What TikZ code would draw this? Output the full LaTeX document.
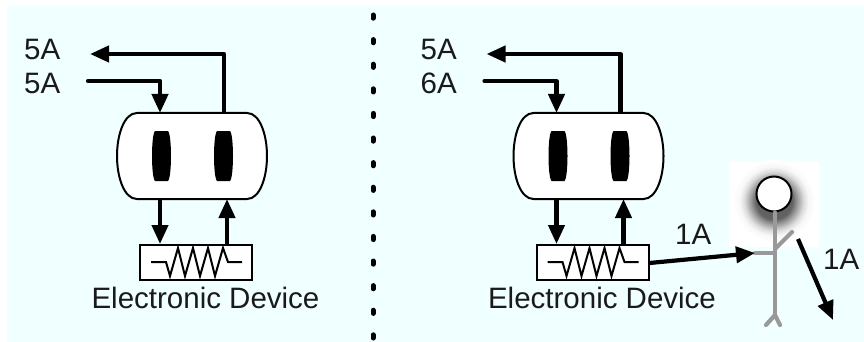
\documentclass[tikz,border=0pt]{standalone}
\usepackage{fontspec}
\setmainfont{Liberation Sans}
\usetikzlibrary{arrows.meta}
\definecolor{panel}{HTML}{F0FFFF}
\definecolor{ink}{HTML}{1A1A1A}
\definecolor{figgray}{HTML}{999999}
\pgfdeclareradialshading{glow}{\pgfpoint{0bp}{0bp}}{color(0bp)=(black!62); color(11bp)=(black!62); color(14bp)=(black!40); color(18bp)=(black!14); color(21bp)=(black!3); color(25bp)=(white); color(50bp)=(white)}
\tikzset{
  wire/.style={line width=4.2pt,line join=round,line cap=round,black},
  flow/.style={wire,-{Triangle[length=19pt,width=16pt]}},
  flat/.style={wire,line cap=butt,-{Triangle[length=19pt,width=16pt]}},
  lab/.style={font=\fontsize{29.5}{29.5}\selectfont,text=ink,inner sep=0pt,anchor=base west},
  anch/.style={inner sep=0pt,outer sep=0pt,minimum width=#1},
  outline/.style={line width=2pt,black},
  limb/.style={line width=4.2pt,figgray,line cap=round,line join=round},
  headball/.style={circle,draw,line width=2pt,fill=white,minimum size=35pt,inner sep=0pt},
}
\newcommand{\plugunit}[3]{%
\begin{scope}[xshift=#1pt]
  \node[lab] (#2top) at (24,60) {5A};
  \node[lab] (#2bot) at (24,94) {#3};
  % outlet
  \node[anch=150pt,minimum height=86pt] (#2out) at (192,156) {};
  \draw[outline,fill=white] (137,113) -- (247,113) .. controls (260,113) and (267,135) .. (267,156) .. controls (267,177) and (260,199) .. (247,199) -- (137,199) .. controls (124,199) and (117,177) .. (117,156) .. controls (117,135) and (124,113) .. (137,113) -- cycle;
  \fill (155,131) -- (168,131) .. controls (170,133) and (171,145) .. (171,156) .. controls (171,167) and (170,179) .. (168,181) -- (155,181) .. controls (153,179) and (152,167) .. (152,156) .. controls (152,145) and (153,133) .. (155,131) -- cycle;
  \fill (217,131) -- (230,131) .. controls (232,133) and (233,145) .. (233,156) .. controls (233,167) and (232,179) .. (230,181) -- (217,181) .. controls (215,179) and (214,167) .. (214,156) .. controls (214,145) and (215,133) .. (217,131) -- cycle;
  % device
  \node[draw,line width=2pt,fill=white,minimum width=112pt,minimum height=35pt,inner sep=0pt] (#2dev) at (196,262.5) {};
  \draw[line width=2pt,line join=miter] (151,262) -- (166,262) -- (170,276) -- (178,248) -- (185,276) -- (193,248) -- (200,276) -- (208,248) -- (215,276) -- (223,248) -- (228,262) -- (242,262);
  \node[font=\fontsize{29.5}{29.5}\selectfont,text=ink,inner sep=0pt,anchor=base] (#2cap) at (205.5,308.5) {Electronic Device};
  % connectors
  \coordinate (#2inA) at (88,81);
  \coordinate (#2outA) at (90,54);
  \draw[flow] (#2inA) -| (#2out.north -| 160,0);
  \draw[flow,line cap=butt] (#2out.north -| 224,0) |- (#2outA);
  \draw[flat] (#2out.south -| 160,0) -- (#2dev.north -| 160,0);
  \draw[flat] (#2dev.north -| 227,0) -- (#2out.south -| 227,0);
\end{scope}}
\begin{document}
\begin{tikzpicture}[x=1pt,y=-1pt]
\useasboundingbox (0,0) rectangle (864,342);
\fill[white] (0,0) rectangle (864,342);
\fill[panel] (7,5) rectangle (864,342);
\draw[line width=5pt,line cap=round,dash pattern=on 3.2pt off 21.4pt] (373,15) -- (373,338);
\plugunit{0}{l}{5A}
\plugunit{396.5}{r}{6A}
% figure
\fill[white] (729,162) rectangle (819,247);
\path[shading=glow] (774,201) circle (41);
\node[headball] (head) at (774,194) {};
\coordinate (hip) at (775,315);
\coordinate (handL) at (755,253);
\coordinate (handR) at (792,232);
\draw[limb] (head.south -| 775,0) -- (hip);
\draw[limb] (handL) -- (775,253);
\draw[limb] (775,249) -- (handR);
\draw[limb] (766,325) -- (hip) -- (780,325);
% currents
\coordinate (shockA) at (798,239);
\coordinate (shockB) at (833,320);
\draw[flat] (rdev.east |- 0,263) -- (handL);
\draw[flat] (shockA) -- (shockB);
\node[lab] (cur1) at (675,244) {1A};
\node[lab] (cur2) at (823,269) {1A};
\end{tikzpicture}
\end{document}
